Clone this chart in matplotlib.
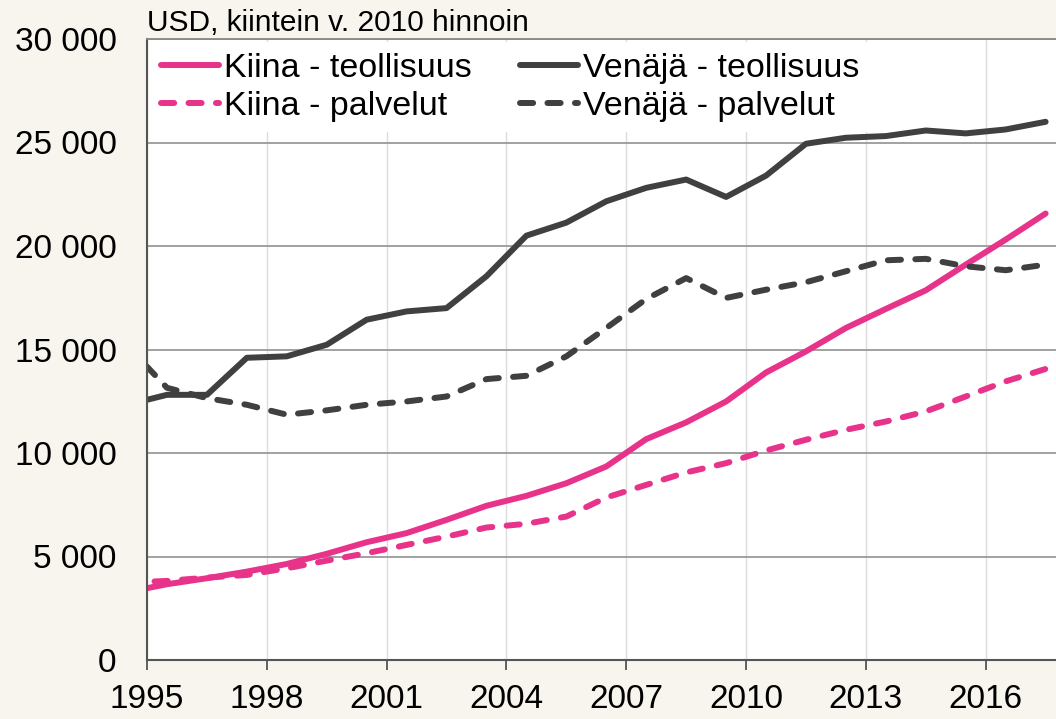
import numpy as np
import matplotlib.pyplot as plt
from matplotlib.ticker import FuncFormatter

# annual values, plotted at mid-year (1994 only shows as the line entering the left edge)
years = list(range(1994, 2018))
kiina_teollisuus = [3280, 3660, 3950, 4270, 4640, 5130, 5690, 6130, 6770, 7450, 7930, 8540,
                    9350, 10670, 11480, 12490, 13890, 14910, 16040, 16960, 17860, 19100, 20310, 21570]
venaja_teollisuus = [12330, 12810, 12810, 14600, 14670, 15230, 16440, 16840, 17000, 18540, 20500, 21130,
                     22160, 22810, 23210, 22370, 23400, 24940, 25230, 25310, 25580, 25440, 25630, 26000]
kiina_palvelut = [3740, 3820, 3980, 4110, 4430, 4800, 5160, 5560, 5960, 6400, 6580, 6930,
                  7850, 8460, 9060, 9510, 10120, 10640, 11120, 11520, 12010, 12730, 13460, 14060]
venaja_palvelut = [15190, 13150, 12650, 12330, 11850, 12060, 12330, 12490, 12730, 13570, 13730, 14670,
                   16040, 17440, 18450, 17490, 17890, 18250, 18780, 19310, 19380, 19020, 18830, 19100]
x_ticks = [1995, 1998, 2001, 2004, 2007, 2010, 2013, 2016]

PINK = '#e8338b'
DARK = '#404040'
BG = '#f8f4ee'

plt.rcParams['font.family'] = ['Liberation Sans', 'DejaVu Sans']

fig = plt.figure(figsize=(10.56, 7.19), dpi=100, facecolor=BG)
ax = fig.add_axes([147 / 1056, 1 - 660 / 719, 1 - 147 / 1056, (660 - 39) / 719])
ax.set_facecolor('white')

x = np.array(years) + 0.5
lw = 4.3
dash = (2.2, 2.4)
ax.plot(x, kiina_teollisuus, color=PINK, lw=lw, solid_capstyle='round', label='Kiina - teollisuus')
ax.plot(x, kiina_palvelut, color=PINK, lw=lw, dashes=dash, dash_capstyle='round',
        label='Kiina - palvelut')
ax.plot(x, venaja_teollisuus, color=DARK, lw=lw, solid_capstyle='round', label='Venäjä - teollisuus')
ax.plot(x, venaja_palvelut, color=DARK, lw=lw, dashes=dash, dash_capstyle='round',
        label='Venäjä - palvelut')

ax.set_xlim(1995, 2017.76)
ax.set_ylim(0, 30000)
ax.set_yticks(range(0, 30001, 5000))
ax.yaxis.set_major_formatter(FuncFormatter(lambda v, p: f'{int(v):,}'.replace(',', ' ')))
ax.set_xticks(x_ticks)

ax.grid(axis='y', color='#9a9a9a', lw=1.3)
ax.grid(axis='x', color='#dcdcdc', lw=1.0)
ax.set_axisbelow(True)

ax.tick_params(axis='y', length=0, pad=22, labelsize=24, colors='black')
ax.tick_params(axis='x', length=7, width=1.3, color='#555555', pad=10, labelsize=24)

for s in ['left', 'bottom']:
    ax.spines[s].set_color('#555555')
    ax.spines[s].set_linewidth(1.5)
ax.spines['top'].set_color('#888888')
ax.spines['top'].set_linewidth(1.3)
ax.spines['right'].set_visible(False)

leg = ax.legend(ncol=2, loc='upper left', bbox_to_anchor=(0.0, 1.0), fontsize=24.5,
                frameon=True, fancybox=False, handlelength=1.72, handletextpad=0.15,
                columnspacing=1.4, labelspacing=0.22, borderpad=0.3, borderaxespad=0.1)
leg.get_frame().set_facecolor('white')
leg.get_frame().set_edgecolor('none')
leg.get_frame().set_alpha(1)

fig.text(147 / 1056, 1 - 31 / 719, 'USD, kiintein v. 2010 hinnoin', fontsize=21.5,
         ha='left', va='baseline')

fig.savefig('out.png', dpi=100, facecolor=BG)
